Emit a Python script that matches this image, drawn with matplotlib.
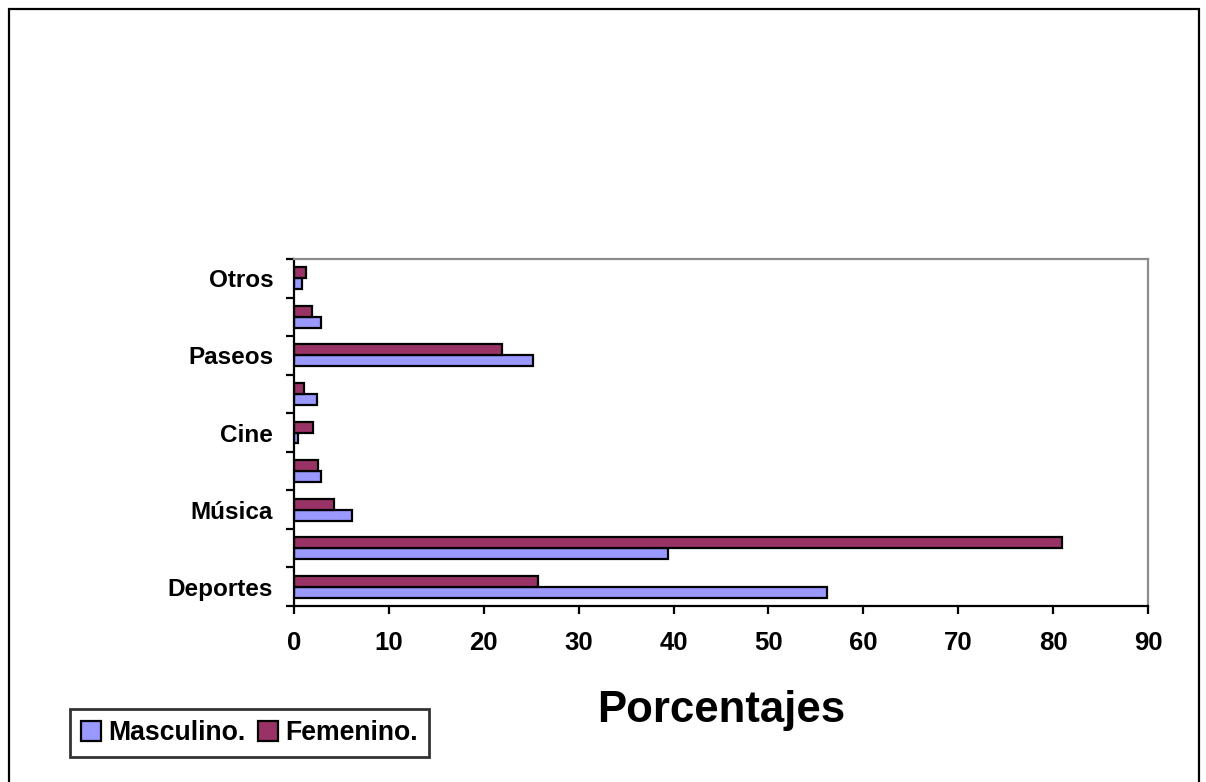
import matplotlib
matplotlib.use("Agg")
import matplotlib.pyplot as plt
from matplotlib.patches import Rectangle
import numpy as np

plt.rcParams['font.family'] = ['Liberation Sans', 'DejaVu Sans']
plt.rcParams['font.weight'] = 'bold'

# Categories from bottom to top (every other label left blank on the axis)
categories = ['Deportes', '', 'Música', '', 'Cine', '', 'Paseos', '', 'Otros']
masculino = [56.2, 39.4, 6.15, 2.8, 0.4, 2.4, 25.2, 2.8, 0.8]
femenino = [25.7, 80.9, 4.25, 2.5, 2.0, 1.1, 21.95, 1.9, 1.26]
x_ticks = [0, 10, 20, 30, 40, 50, 60, 70, 80, 90]
series_names = ['Masculino.', 'Femenino.']

color_m = '#9999FF'
color_f = '#993366'

W, H = 1206, 782
fig = plt.figure(figsize=(W / 100, H / 100), dpi=100)
ax = fig.add_axes([294 / W, 1 - 606 / H, (1148 - 294) / W, (606 - 259) / H])

y = np.arange(len(categories))
bh = 0.285
bm = ax.barh(y - bh / 2, masculino, height=bh, color=color_m, edgecolor='black', linewidth=1.6)
bf = ax.barh(y + bh / 2, femenino, height=bh, color=color_f, edgecolor='black', linewidth=1.6)

ax.set_xlim(0, 90)
ax.set_ylim(-0.5, len(categories) - 0.5)

ax.set_xticks(x_ticks)
ax.set_xticklabels([str(t) for t in x_ticks], fontsize=18.5, fontweight='bold')
ax.tick_params(axis='x', direction='out', length=6, width=1.6, pad=12, colors='black')

# boundary ticks on the category axis, labels centred between them
ax.set_yticks(np.arange(-0.5, len(categories), 1.0))
ax.set_yticklabels([])
ax.tick_params(axis='y', which='major', direction='out', length=6, width=1.6)
ax.set_yticks(y, minor=True)
ax.set_yticklabels(categories, minor=True, fontsize=17.5, fontweight='bold')
ax.tick_params(axis='y', which='minor', length=0, pad=15)

for side in ('left', 'bottom'):
    ax.spines[side].set_color('black')
    ax.spines[side].set_linewidth(1.6)
for side in ('top', 'right'):
    ax.spines[side].set_color('#8c8c8c')
    ax.spines[side].set_linewidth(1.6)

fig.text(721 / W, 1 - 722 / H, 'Porcentajes', fontsize=31.5, fontweight='bold',
         ha='center', va='baseline')

leg = fig.legend([bm, bf], series_names, loc='upper left',
                 bbox_to_anchor=(70 / W, 1 - 709 / H), ncol=2, fontsize=19.2,
                 frameon=True, fancybox=False, shadow=False, borderaxespad=0,
                 handlelength=0.75, handleheight=0.75, handletextpad=0.27,
                 columnspacing=0.45, borderpad=0.42)
leg.get_frame().set_edgecolor('black')
leg.get_frame().set_linewidth(2)
for t in leg.get_texts():
    t.set_fontweight('bold')

# outer chart frame
fig.patches.append(Rectangle((8.5 / W, -0.02), (1199 - 8.5) / W, 1.02 - 9 / H,
                             transform=fig.transFigure, fill=False,
                             edgecolor='black', linewidth=1.6))

fig.savefig('out.png', dpi=100)
